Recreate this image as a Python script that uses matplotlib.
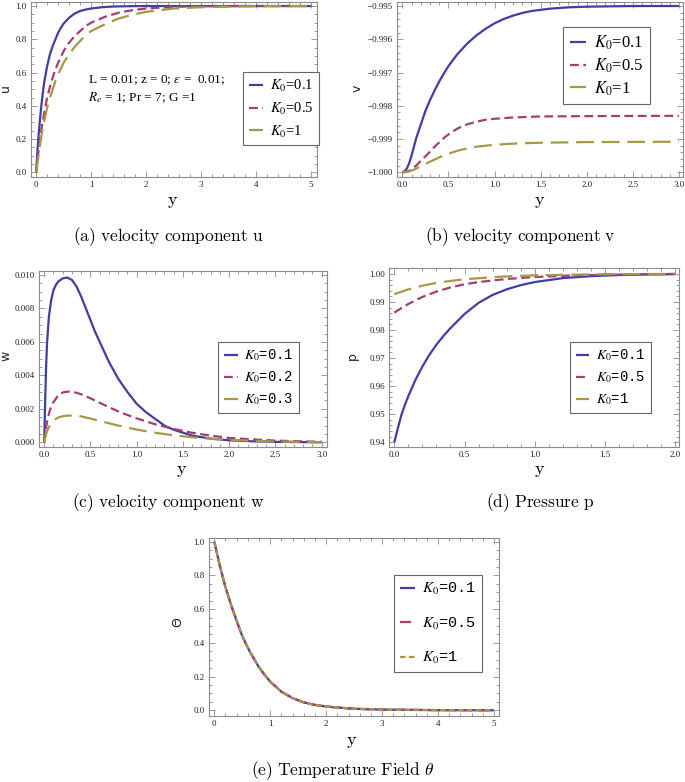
import matplotlib
matplotlib.use("Agg")
import matplotlib.pyplot as plt
from matplotlib.ticker import MultipleLocator, FuncFormatter
from matplotlib.font_manager import FontProperties

plt.rcParams['mathtext.fontset'] = 'cm'

# ---- data ----
labels_a = ['$K_0$=0.1', '$K_0$=0.5', '$K_0$=1']
labels_c = ['$K_0$=0.1', '$K_0$=0.2', '$K_0$=0.3']

# (a) velocity u
ya1 = [0, 0.025, 0.05, 0.075, 0.1, 0.125, 0.15, 0.2, 0.25, 0.3, 0.35, 0.4, 0.45, 0.5,
       0.6, 0.7, 0.8, 0.9, 1.0, 1.2, 1.4, 1.7, 2, 3, 5]
ua1 = [0, 0.14, 0.25, 0.34, 0.42, 0.49, 0.55, 0.64, 0.71, 0.76, 0.8, 0.84, 0.87, 0.895,
       0.93, 0.955, 0.97, 0.979, 0.985, 0.993, 0.997, 0.999, 1, 1, 1]
ya2 = [0, 0.025, 0.05, 0.075, 0.1, 0.15, 0.2, 0.25, 0.3, 0.35, 0.4, 0.5, 0.6, 0.7,
       0.8, 0.9, 1.0, 1.25, 1.5, 1.75, 2, 2.5, 3, 4, 5]
ua2 = [0, 0.08, 0.15, 0.21, 0.27, 0.365, 0.45, 0.515, 0.57, 0.62, 0.66, 0.73, 0.78,
       0.82, 0.85, 0.88, 0.9, 0.935, 0.96, 0.975, 0.985, 0.995, 0.999, 1, 1]
ya3 = [0, 0.025, 0.05, 0.075, 0.1, 0.15, 0.2, 0.25, 0.3, 0.35, 0.4, 0.5, 0.6, 0.7,
       0.8, 0.9, 1.0, 1.25, 1.5, 1.75, 2, 2.5, 3, 4, 5]
ua3 = [0, 0.06, 0.12, 0.18, 0.23, 0.315, 0.39, 0.45, 0.5, 0.55, 0.59, 0.66, 0.71,
       0.755, 0.79, 0.825, 0.85, 0.89, 0.925, 0.948, 0.965, 0.985, 0.993, 0.999, 1]

# (b) velocity v
yb1 = [0, 0.025, 0.05, 0.075, 0.1, 0.125, 0.15, 0.2, 0.25, 0.3, 0.35, 0.4, 0.45, 0.5,
       0.55, 0.6, 0.7, 0.8, 0.9, 1.0, 1.1, 1.2, 1.3, 1.4, 1.6, 1.8, 2.0, 2.5, 3.0]
vb1 = [-1.0, -0.99997, -0.99988, -0.99972, -0.9995, -0.99924, -0.99898, -0.99857,
       -0.99816, -0.99783, -0.99754, -0.99727, -0.99703, -0.99681, -0.99662, -0.99644,
       -0.99614, -0.99589, -0.99569, -0.99552, -0.99539, -0.99529, -0.99521,
       -0.99515, -0.99508, -0.99504, -0.99502, -0.995, -0.995]
yb2 = [0, 0.05, 0.1, 0.15, 0.2, 0.25, 0.3, 0.35, 0.4, 0.45, 0.5, 0.6, 0.7, 0.8, 0.9,
       1.0, 1.2, 1.5, 2.0, 3.0]
vb2 = [-1.0, -0.99998, -0.99992, -0.9998, -0.99965, -0.99952, -0.99938, -0.99923,
       -0.9991, -0.99897, -0.99886, -0.99868, -0.99856, -0.99848, -0.99842, -0.99839,
       -0.99835, -0.99832, -0.99831, -0.9983]
yb3 = [0, 0.05, 0.1, 0.15, 0.2, 0.25, 0.3, 0.4, 0.5, 0.6, 0.7, 0.8, 1.0, 1.25, 1.5,
       2.0, 3.0]
vb3 = [-1.0, -0.99999, -0.99995, -0.99989, -0.99981, -0.99975, -0.99968, -0.99955,
       -0.99944, -0.99935, -0.99928, -0.99923, -0.99917, -0.99913, -0.99911, -0.99909,
       -0.99908]

# (c) velocity w
yc1 = [0, 0.01, 0.02, 0.03, 0.05, 0.075, 0.1, 0.125, 0.15, 0.2, 0.25, 0.3, 0.35, 0.4,
       0.45, 0.5, 0.55, 0.6, 0.7, 0.8, 0.9, 1.0, 1.1, 1.2, 1.3, 1.4, 1.6, 1.8, 2.0,
       2.25, 2.5, 3.0]
wc1 = [0, 0.0025, 0.0045, 0.0059, 0.0075, 0.0085, 0.0091, 0.0094, 0.0096, 0.0098,
       0.00985, 0.0097, 0.0093, 0.0087, 0.008, 0.0073, 0.0066, 0.006, 0.0048, 0.0038,
       0.003, 0.0023, 0.0018, 0.0014, 0.001, 0.00075, 0.0004, 0.00022, 0.00012,
       0.00006, 0.00003, 0.0]
yc2 = [0, 0.02, 0.04, 0.06, 0.08, 0.1, 0.15, 0.2, 0.25, 0.3, 0.35, 0.4, 0.5, 0.6, 0.7,
       0.8, 0.9, 1.0, 1.2, 1.4, 1.6, 1.8, 2.0, 2.5, 3.0]
wc2 = [0, 0.0009, 0.0015, 0.0019, 0.0022, 0.0024, 0.0028, 0.00298, 0.00303, 0.00302,
       0.00296, 0.00287, 0.00263, 0.00236, 0.0021, 0.00185, 0.00163, 0.00143, 0.00108,
       0.0008, 0.00057, 0.0004, 0.00026, 0.0001, 0.00003]
yc3 = [0, 0.02, 0.04, 0.06, 0.1, 0.15, 0.2, 0.25, 0.3, 0.4, 0.5, 0.6, 0.8, 1.0, 1.2,
       1.4, 1.6, 2.0, 2.5, 3.0]
wc3 = [0, 0.0005, 0.0008, 0.001, 0.0013, 0.00148, 0.00156, 0.0016, 0.0016, 0.00155,
       0.00142, 0.00128, 0.001, 0.00076, 0.00057, 0.00042, 0.0003, 0.00014, 0.00005,
       0.00001]

# (d) pressure p
yd1 = [0, 0.025, 0.05, 0.075, 0.1, 0.15, 0.2, 0.25, 0.3, 0.35, 0.4, 0.5, 0.6, 0.7,
       0.8, 0.9, 1.0, 1.2, 1.4, 1.6, 1.8, 2.0]
pd1 = [0.94, 0.945, 0.9497, 0.9533, 0.9565, 0.9622, 0.967, 0.9712, 0.9748, 0.9779,
       0.9807, 0.9857, 0.9897, 0.9925, 0.9945, 0.996, 0.9971, 0.9985, 0.9992, 0.9996,
       0.9998, 0.9999]
yd2 = [0, 0.05, 0.1, 0.2, 0.3, 0.4, 0.5, 0.6, 0.8, 1.0, 1.25, 1.5, 2.0]
pd2 = [0.9862, 0.9878, 0.9893, 0.9918, 0.9937, 0.9952, 0.9963, 0.9971, 0.9982,
       0.9989, 0.9994, 0.9997, 1.0]
yd3 = [0, 0.1, 0.2, 0.3, 0.4, 0.5, 0.75, 1.0, 1.5, 2.0]
pd3 = [0.9928, 0.9945, 0.9958, 0.9968, 0.9975, 0.9981, 0.999, 0.9995, 0.9999, 1.0]

# (e) temperature theta (three curves coincide)
ye = [0, 0.1, 0.2, 0.3, 0.4, 0.5, 0.6, 0.7, 0.8, 0.9, 1.0, 1.2, 1.4, 1.6, 1.8, 2.0,
      2.5, 3.0, 4.0, 5.0]
te = [1.0, 0.855, 0.73, 0.625, 0.53, 0.44, 0.37, 0.31, 0.255, 0.21, 0.17, 0.11,
      0.072, 0.047, 0.032, 0.022, 0.009, 0.004, 0.001, 0.0]

colors = ['#3f3fa3', '#a33f73', '#a69845']
styles = [(0, ()), (0, (4, 2)), (0, (8, 3.5))]
frame = '#8c8c8c'

fig = plt.figure(figsize=(6.85, 7.82), dpi=100)


def style_axes(ax, xstep, xminor, ystep, yminor, xfmt, yfmt):
    for s in ax.spines.values():
        s.set_color(frame)
        s.set_linewidth(0.8)
    ax.xaxis.set_major_locator(MultipleLocator(xstep))
    ax.xaxis.set_minor_locator(MultipleLocator(xminor))
    ax.yaxis.set_major_locator(MultipleLocator(ystep))
    ax.yaxis.set_minor_locator(MultipleLocator(yminor))
    ax.xaxis.set_major_formatter(FuncFormatter(lambda v, p: xfmt.format(v).replace('-', '\u2212')))
    ax.yaxis.set_major_formatter(FuncFormatter(lambda v, p: yfmt.format(v).replace('-', '\u2212')))
    ax.tick_params(which='both', direction='in', top=True, right=True, color=frame,
                   width=0.6, labelsize=6.5, pad=3, labelcolor='#222222')
    ax.tick_params(which='major', length=4)
    ax.tick_params(which='minor', length=2)
    for lab in ax.get_xticklabels() + ax.get_yticklabels():
        lab.set_family('Liberation Serif')


def add_legend(ax, anchor, mono, size, spacing):
    fam = 'Liberation Mono' if mono else 'Liberation Serif'
    fp = FontProperties(family=fam, size=size, math_fontfamily='stix')
    leg = ax.legend(loc='upper left', bbox_to_anchor=anchor, borderaxespad=0,
                    prop=fp, handlelength=1.0, handletextpad=0.45,
                    labelspacing=spacing, borderpad=0.4, fancybox=False,
                    framealpha=1, edgecolor='#666666')
    leg.get_frame().set_linewidth(0.8)
    return leg


def curves(ax, xs, ys, labels, lw=1.6):
    for x, y, c, ls, lab in zip(xs, ys, colors, styles, labels):
        ax.plot(x, y, color=c, lw=lw, ls=ls, label=lab)


# (a)
axa = fig.add_axes([0.0448, 0.774, 0.4175, 0.2234])
curves(axa, [ya1, ya2, ya3], [ua1, ua2, ua3], labels_a)
axa.set_xlim(-0.1, 5.1)
axa.set_ylim(-0.026, 1.024)
style_axes(axa, 1, 0.2, 0.2, 0.05, '{:.0f}', '{:.1f}')
add_legend(axa, (0.742, 0.598), False, 10.5, 0.45)
axa.text(0.2, 0.535, 'L = 0.01; z = 0; $\\epsilon$ =  0.01;', transform=axa.transAxes,
         family='Liberation Serif', fontsize=9.5, math_fontfamily='stix')
axa.text(0.2, 0.43, '$R_e$ = 1; Pr = 7; G =1', transform=axa.transAxes,
         family='Liberation Serif', fontsize=9.5, math_fontfamily='stix')

# (b)
axb = fig.add_axes([0.5791, 0.774, 0.4184, 0.2234])
curves(axb, [yb1, yb2, yb3], [vb1, vb2, vb3], labels_a)
axb.set_xlim(-0.061, 3.047)
axb.set_ylim(-1.000132, -0.99488)
style_axes(axb, 0.5, 0.1, 0.001, 0.0002, '{:.1f}', '{:.3f}')
add_legend(axb, (0.58, 0.855), False, 12, 0.25)

# (c)
axc = fig.add_axes([0.0565, 0.4288, 0.4204, 0.2247])
curves(axc, [yc1, yc2, yc3], [wc1, wc2, wc3], labels_c)
axc.set_xlim(-0.06, 3.054)
axc.set_ylim(-0.00026, 0.01024)
style_axes(axc, 0.5, 0.1, 0.002, 0.0005, '{:.1f}', '{:.3f}')
add_legend(axc, (0.623, 0.596), True, 10, 0.45)

# (d)
axd = fig.add_axes([0.5683, 0.4288, 0.4234, 0.2281])
curves(axd, [yd1, yd2, yd3], [pd1, pd2, pd3], labels_a)
axd.set_xlim(-0.036, 2.03)
axd.set_ylim(0.93843, 1.002)
style_axes(axd, 0.5, 0.1, 0.01, 0.002, '{:.1f}', '{:.2f}')
add_legend(axd, (0.623, 0.587), True, 10, 0.45)

# (e)
axe = fig.add_axes([0.3051, 0.0848, 0.4234, 0.2276])
e_styles = [(0, ()), (0, (5, 2.5)), (0, (2.5, 1.5))]
for c, ls, lab in zip(colors, e_styles, labels_a):
    axe.plot(ye, te, color=c, lw=1.6, ls=ls, label=lab)
axe.set_xlim(-0.095, 5.09)
axe.set_ylim(-0.032, 1.024)
style_axes(axe, 1, 0.2, 0.2, 0.05, '{:.0f}', '{:.1f}')
add_legend(axe, (0.638, 0.79), True, 11, 1.2)

# axis labels and captions in figure pixel coordinates
W, H = 685.0, 782.0


def ftext(x, y, s, **kw):
    fig.text(x / W, 1 - y / H, s, ha='center', va='center', **kw)


for x, y in [(173, 201), (540, 201), (182, 470), (540, 470), (352, 741)]:
    ftext(x, y, r'$\mathrm{y}$', fontsize=13)
for x, y, s in [(6, 88, 'u'), (357, 88, 'v'), (6, 356, 'w'), (352, 356, 'p'),
                (178, 622, '\u0398')]:
    ftext(x, y, s, fontsize=9, rotation=90, family='DejaVu Sans', color='#222222')

ftext(168, 237, r'$\mathrm{(a)\ velocity\ component\ u}$', fontsize=12.5)
ftext(520, 237, r'$\mathrm{(b)\ velocity\ component\ v}$', fontsize=12.5)
ftext(168, 503, r'$\mathrm{(c)\ velocity\ component\ w}$', fontsize=12.5)
ftext(540, 503, r'$\mathrm{(d)\ Pressure\ p}$', fontsize=12.5)
ftext(343, 771, r'$\mathrm{(e)\ Temperature\ Field}\ \theta$', fontsize=12.5)

fig.savefig('out.png', dpi=100)
